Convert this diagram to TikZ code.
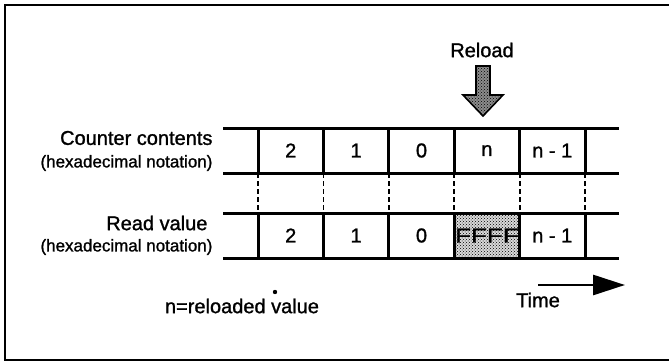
\documentclass[tikz,border=0pt]{standalone}
\usepackage{fontspec}
\usepackage{graphicx}
\setmainfont{Liberation Sans}
\newfontfamily\heavyfont{Liberation Sans}[FakeBold=1.2]
\usetikzlibrary{positioning,calc,arrows.meta,patterns}

\begin{document}
\begin{tikzpicture}[x=1pt, y=-1pt, font=\heavyfont\fontsize{20}{24}\selectfont,
    cell/.style={draw, line width=3pt, minimum width=65.4pt, minimum height=45pt, inner sep=0pt, outer sep=0pt},
    rowline/.style={line width=3pt},
    gridline/.style={line width=1.8pt, dash pattern=on 5pt off 3pt},
    shaded/.style={fill=black!#1, postaction={pattern=crosshatch dots, pattern color=black}},
    small/.style={font=\heavyfont\fontsize{17}{20}\selectfont}]
    \useasboundingbox (0,0) rectangle (669,361);
    \draw[line width=2.4pt] (675,5) -- (5,5) -- (5,360) -- (675,360);

    \foreach \v [count=\i] in {2,1,0,n,n - 1} {
      \node[cell] (c\i) at (258+65.4*\i-32.7,150.5) {\v};
    }
    \foreach \v [count=\i] in {2,1,0,,n - 1} {
      \node[cell] (r\i) at (258+65.4*\i-32.7,235.5) {\v};
    }
    \node[cell, shaded=15] (r4) at (r4) {\scalebox{1.3}[1]{FFFF}};

    \foreach \row in {c,r} {
      \draw[rowline] ([xshift=-35pt]\row1.north west) -- ([xshift=34pt]\row5.north east);
      \draw[rowline] ([xshift=-35pt]\row1.south west) -- ([xshift=34pt]\row5.south east);
    }
    \foreach \i in {1,...,5} {
      \draw[gridline] (c\i.south west) -- (r\i.north west);
    }
    \draw[gridline] (c5.south east) -- (r5.north east);

    \node[anchor=east] (counter) at (216,138) {Counter contents};
    \node[anchor=east, small] (counterhex) at (216,163) {(hexadecimal notation)};
    \node[anchor=east] (read) at (211,223) {Read value};
    \node[anchor=east, small] (readhex) at (216,247) {(hexadecimal notation)};

    \node (reload) at (482,50) {Reload};
    \draw[line width=1.6pt, shaded=45]
      (476,66) -- (490,66) -- (490,95) -- (503,95) -- (483,116) -- (463,95) -- (476,95) -- cycle;

    \node (time) at (538,300) {Time};
    \coordinate (tstart) at (538,285);
    \coordinate (tend) at (625,285);
    \draw[line width=2.8pt, -{Triangle[length=32pt, width=20pt]}] (tstart) -- (tend);

    \node (legend) at (242,306) {n=reloaded value};
    \fill (275,292) circle (2.2pt);
  \end{tikzpicture}
\end{document}
